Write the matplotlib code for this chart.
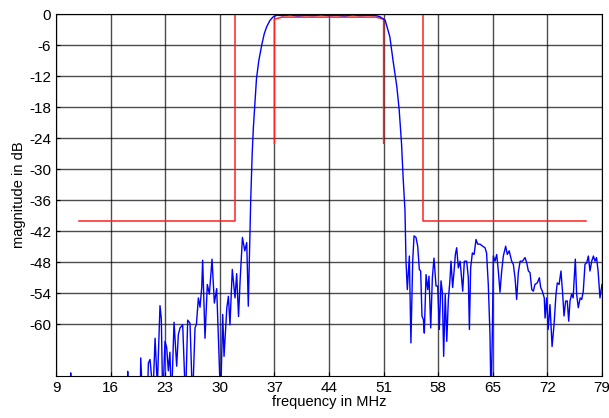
import matplotlib
matplotlib.use("Agg")
import matplotlib.pyplot as plt

# measured filter response (MHz, dB); values below -70 are off-scale
freq_mhz = [
    9.0, 10.8, 10.88, 10.95, 18.1, 18.19, 18.28, 19.75, 19.86, 20.1, 20.7,
    20.84, 21.05, 21.27, 21.47, 21.7, 21.99, 22.33, 22.5, 22.68, 22.97,
    23.19, 23.4, 23.6, 23.8, 24.13, 24.47, 24.68, 24.9, 25.24, 25.6, 25.88,
    26.18, 26.5, 26.82, 27.0, 27.25, 27.46, 27.68, 27.8, 28.1, 28.4, 28.66,
    29.0, 29.3, 29.6, 29.8, 30.1, 30.37, 30.54, 30.9, 31.1, 31.3, 31.6,
    31.95, 32.16, 32.4, 32.6, 32.9, 33.2, 33.45, 33.65, 33.96, 34.15, 34.3,
    34.7, 35.0, 35.4, 35.7, 36.0, 36.4, 36.8, 37.3, 38.0, 39.0, 40.0, 41.0,
    42.0, 43.0, 44.0, 45.0, 46.0, 47.0, 48.0, 49.0, 50.0, 50.5, 51.2, 51.8,
    52.2, 52.7, 53.0, 53.3, 53.5, 53.74, 53.87, 54.04, 54.3, 54.5, 54.73,
    54.9, 55.15, 55.37, 55.58, 55.75, 55.92, 56.1, 56.22, 56.44, 56.65,
    56.82, 57.04, 57.25, 57.46, 57.72, 57.93, 58.14, 58.36, 58.53, 58.7,
    58.9, 59.1, 59.3, 59.5, 59.64, 59.85, 60.07, 60.2, 60.37, 60.58, 60.8,
    60.92, 61.14, 61.35, 61.65, 61.86, 62.0, 62.16, 62.38, 62.6, 62.85,
    63.06, 63.36, 63.7, 64.0, 64.2, 64.42, 64.64, 64.77, 64.94, 65.07,
    65.28, 65.5, 65.71, 65.92, 66.14, 66.35, 66.65, 66.86, 67.1, 67.42,
    67.63, 67.85, 68.06, 68.27, 68.5, 68.8, 69.13, 69.35, 69.56, 69.77,
    70.0, 70.2, 70.4, 70.7, 70.97, 71.14, 71.35, 71.6, 71.7, 71.9, 72.1,
    72.33, 72.6, 72.85, 73.1, 73.27, 73.5, 73.74, 73.96, 74.13, 74.34,
    74.55, 74.73, 74.9, 75.1, 75.3, 75.58, 75.75, 75.96, 76.2, 76.4, 76.6,
    76.82, 77.04, 77.25, 77.46, 77.68, 77.9, 78.1, 78.3, 78.5, 78.74, 79.0,
]
mag_db = [
    -80, -80, -69.4, -80, -80, -69.1, -80, -80, -66.5, -75, -75,
    -67.5, -66.8, -70.5, -72, -62.7, -72, -56.4, -59, -75, -63.3,
    -64.5, -69, -65.4, -75, -59.6, -68.1, -62.0, -60.7, -60.1, -75, -59.2,
    -59.8, -75, -60.7, -60.0, -54.9, -56.7, -52.9, -47.6, -62.7, -52.3, -54.2,
    -47.4, -55.9, -53.1, -61.7, -75, -58.1, -66.2, -56.8, -54.6, -60.1, -49.4,
    -54.9, -50.2, -58.5, -51.6, -43.2, -45.8, -44.2, -56.5, -36.1, -27.0, -22.0,
    -12.5, -9.0, -5.8, -3.8, -2.5, -1.3, -0.6, -0.25, -0.3, -0.2, -0.35, -0.25,
    -0.3, -0.2, -0.3, -0.25, -0.35, -0.2, -0.3, -0.25, -0.3, -0.5, -1.2, -4.4,
    -8.9, -14.1, -18.6, -25.1, -31.6, -38.0, -47.8, -53.3, -46.8, -63.6, -47.8,
    -42.9, -43.2, -44.9, -49.4, -49.7, -58.4, -59.1, -61.7, -50.4, -53.3,
    -50.7, -60.7, -51.0, -47.2, -52.6, -52.6, -61.0, -51.6, -53.8, -66.2,
    -54.2, -63.3, -55.2, -51.6, -47.8, -52.9, -49.1, -46.5, -45.2, -49.1, -47.8,
    -49.7, -53.6, -47.8, -47.8, -51.0, -61.0, -49.1, -46.2, -46.5, -43.6,
    -44.5, -44.5, -44.9, -45.2, -46.2, -52.3, -62.0, -75, -62.0, -46.8,
    -47.8, -46.5, -49.7, -53.8, -49.7, -46.8, -44.9, -46.5, -45.8, -47.8,
    -48.4, -51.0, -55.2, -50.0, -47.8, -47.8, -47.1, -48.1, -49.7, -50.0,
    -53.3, -53.6, -52.3, -52.0, -51.0, -52.9, -53.6, -54.9, -58.8, -54.9, -61.0,
    -56.2, -64.3, -60.1, -54.2, -52.0, -52.3, -49.7, -54.2, -58.4, -55.5,
    -55.5, -59.4, -55.5, -54.2, -54.9, -47.4, -54.2, -56.8, -54.9, -55.2, -53.6,
    -48.4, -48.1, -46.8, -49.7, -47.8, -46.8, -47.8, -47.1, -49.7, -54.9, -52.3,
]

# tolerance masks
outer_mask_f = [12, 32, 32, 56, 56, 77]
outer_mask_db = [-40, -40, 0, 0, -40, -40]
inner_mask_f = [37, 37, 38, 50, 51, 51]
inner_mask_db = [-25, -1, -0.6, -0.6, -1, -25]

x_ticks = [9, 16, 23, 30, 37, 44, 51, 58, 65, 72, 79]
y_ticks = [0, -6, -12, -18, -24, -30, -36, -42, -48, -54, -60]

plt.rcParams["font.family"] = ["Liberation Sans", "DejaVu Sans"]

fig = plt.figure(figsize=(6.09, 4.18), dpi=100)
ax = fig.add_axes([0.092, 0.1005, 0.8965, 0.866])

ax.plot(outer_mask_f, outer_mask_db, color="#ff2020", linewidth=1.1)
ax.plot(inner_mask_f, inner_mask_db, color="#ff2020", linewidth=1.1)
ax.plot(freq_mhz, mag_db, color="blue", linewidth=1.0)

ax.set_xlim(9, 79)
ax.set_ylim(-70, 0)
ax.set_xticks(x_ticks)
ax.set_yticks(y_ticks)
ax.set_xticklabels([str(v) for v in x_ticks])
ax.set_yticklabels([str(v) for v in y_ticks])
ax.tick_params(direction="in", labelsize=11, length=3)
ax.grid(True, color="black", linewidth=1.0, alpha=0.7)
ax.set_axisbelow(True)
for s in ax.spines.values():
    s.set_linewidth(0.8)

ax.set_xlabel("frequency in MHz", fontsize=10.5, labelpad=0)
ax.set_ylabel("magnitude in dB", fontsize=10.5, labelpad=2)

fig.savefig("out.png", dpi=100)
